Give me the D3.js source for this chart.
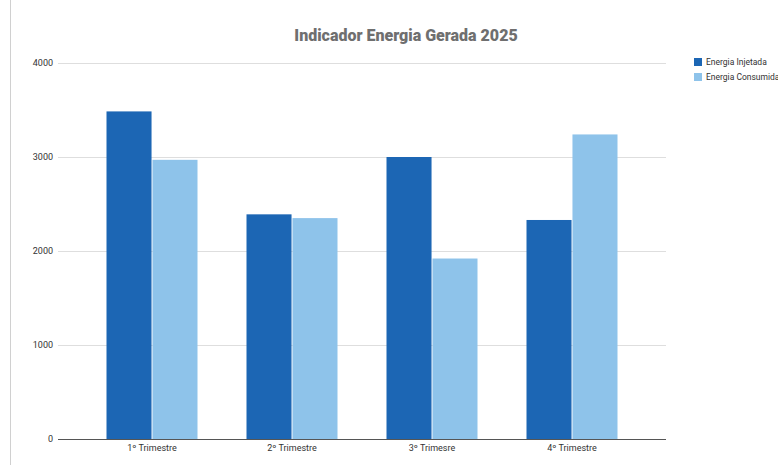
<!DOCTYPE html>
<html><head><meta charset="utf-8">
<script src="https://cdn.jsdelivr.net/npm/d3@7"></script>
<style>html,body{margin:0;padding:0;background:#fff;}</style>
</head><body><svg id="c" width="778" height="465"></svg>
<script>
const categories = ["1º Trimestre", "2º Trimestre", "3º Trimesre", "4º Trimestre"];
const seriesNames = ["Energia Injetada", "Energia Consumida"];
const injetada = [3485, 2390, 3000, 2330];
const consumida = [2970, 2350, 1920, 3240];
const yTicks = [0, 1000, 2000, 3000, 4000];
const colors = ["#1c66b4", "#8ec3ea"];
const title = "Indicador Energia Gerada 2025";

const svg = d3.select("#c");
const font = "'Liberation Sans Narrow', Roboto, sans-serif";

svg.append("line").attr("x1", 10.5).attr("x2", 10.5).attr("y1", 0).attr("y2", 465)
  .attr("stroke", "#d0d0d0").attr("stroke-width", 1);

const y = d3.scaleLinear().domain([0, 4000]).range([439, 63]);
const x = d3.scaleBand().domain(categories).range([82, 642]).paddingInner(0.35).paddingOuter(0.175);
const xs = d3.scaleBand().domain(seriesNames).range([0, x.bandwidth()]).paddingInner(0.02);

// gridlines
svg.append("g").selectAll("line").data(yTicks.filter(d => d > 0)).join("line")
  .attr("x1", 58).attr("x2", 666)
  .attr("y1", d => y(d) + 0.5).attr("y2", d => y(d) + 0.5)
  .attr("stroke", "#dedede").attr("stroke-width", 1);

// y labels
svg.append("g").selectAll("text").data(yTicks).join("text")
  .attr("x", 53).attr("y", d => y(d) + 3)
  .attr("text-anchor", "end").attr("font-family", font).attr("font-size", 9)
  .attr("fill", "#333").text(d => d);

// bars
const data = categories.map((c, i) => ({c, vals: [injetada[i], consumida[i]]}));
const groups = svg.append("g").selectAll("g").data(data).join("g")
  .attr("transform", d => `translate(${x(d.c)},0)`);
groups.selectAll("rect").data(d => d.vals.map((v, j) => ({v, s: seriesNames[j], j}))).join("rect")
  .attr("x", d => xs(d.s)).attr("width", xs.bandwidth())
  .attr("y", d => y(d.v)).attr("height", d => y(0) - y(d.v))
  .attr("fill", d => colors[d.j]);

// baseline
svg.append("line").attr("x1", 58).attr("x2", 666).attr("y1", 439.5).attr("y2", 439.5)
  .attr("stroke", "#555").attr("stroke-width", 1);

// x labels
svg.append("g").selectAll("text").data(categories).join("text")
  .attr("x", d => x(d) + x.bandwidth() / 2).attr("y", 451)
  .attr("text-anchor", "middle").attr("font-family", font).attr("font-size", 9)
  .attr("fill", "#333").text(d => d);

// title
svg.append("text").attr("x", 406).attr("y", 41).attr("text-anchor", "middle")
  .attr("font-family", "Roboto, 'Liberation Sans', sans-serif").attr("font-weight", 900)
  .attr("font-size", 16).attr("fill", "#6f6f6f").text(title);

// legend
const lg = svg.append("g").selectAll("g").data(seriesNames).join("g")
  .attr("transform", (d, i) => `translate(694,${58 + i * 15})`);
lg.append("rect").attr("width", 8).attr("height", 8).attr("fill", (d, i) => colors[i]);
lg.append("text").attr("x", 12).attr("y", 7).attr("font-family", font).attr("font-size", 8.5)
  .attr("fill", "#333").text(d => d);
</script></body></html>
